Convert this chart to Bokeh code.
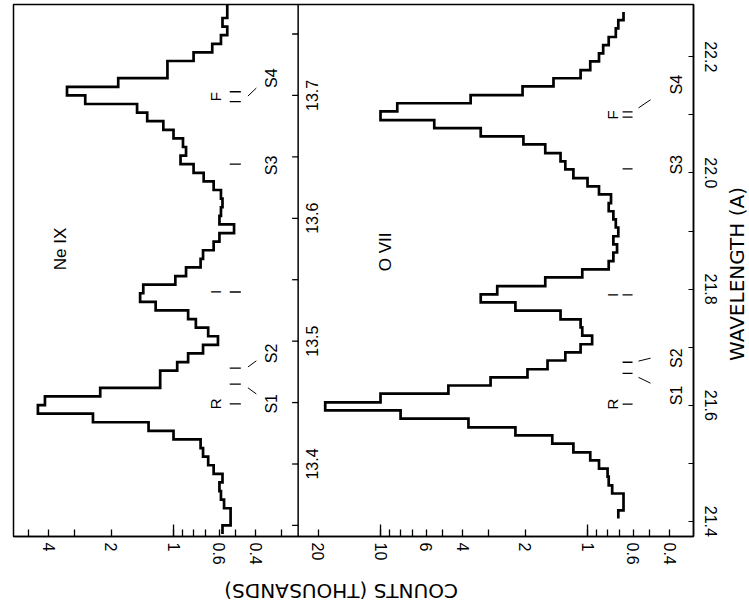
import math
from bokeh.plotting import figure
from bokeh.layouts import row, column
from bokeh.models import (Range1d, LogScale, LogAxis, LinearAxis, FixedTicker,
                          NumeralTickFormatter, Span)
from bokeh.core.properties import value
from bokeh.embed import file_html
from bokeh.resources import INLINE

# ---- Ne IX spectrum: channel edges (Angstrom) and counts (thousands) ----
ne_edges = [13.343, 13.350, 13.357, 13.364, 13.371, 13.378, 13.385, 13.392, 13.399, 13.406,
            13.413, 13.420, 13.427, 13.434, 13.441, 13.448, 13.455, 13.462, 13.469, 13.476,
            13.483, 13.490, 13.497, 13.504, 13.511, 13.518, 13.525, 13.532, 13.539, 13.546,
            13.553, 13.560, 13.567, 13.574, 13.581, 13.588, 13.595, 13.602, 13.609, 13.616,
            13.623, 13.630, 13.637, 13.644, 13.651, 13.658, 13.665, 13.672, 13.679, 13.686,
            13.693, 13.700, 13.707, 13.714, 13.721, 13.728, 13.735, 13.742, 13.749, 13.756,
            13.763, 13.770, 13.777]
ne_counts = [0.58, 0.53, 0.53, 0.57, 0.59, 0.60, 0.58, 0.64, 0.68, 0.72,
             0.74, 1.00, 1.32, 2.45, 4.52, 4.18, 2.26, 1.16, 1.16, 0.96,
             0.85, 0.72, 0.61, 0.68, 0.78, 0.85, 1.22, 1.45, 1.40, 0.98,
             0.87, 0.74, 0.72, 0.64, 0.60, 0.51, 0.60, 0.59, 0.58, 0.59,
             0.64, 0.715, 0.80, 0.925, 0.87, 0.90, 1.00, 1.12, 1.34, 1.50,
             2.67, 3.27, 1.85, 1.07, 1.07, 0.80, 0.65, 0.59, 0.55, 0.58,
             0.55, 0.55]

# ---- O VII spectrum ----
o_edges = [21.405, 21.419, 21.434, 21.448, 21.462, 21.477, 21.491, 21.505, 21.519, 21.534,
           21.548, 21.562, 21.577, 21.591, 21.605, 21.620, 21.634, 21.648, 21.662, 21.677,
           21.691, 21.705, 21.720, 21.734, 21.748, 21.763, 21.777, 21.791, 21.805, 21.820,
           21.834, 21.848, 21.863, 21.877, 21.891, 21.906, 21.920, 21.934, 21.948, 21.963,
           21.977, 21.991, 22.006, 22.020, 22.034, 22.049, 22.063, 22.077, 22.091, 22.106,
           22.120, 22.134, 22.149, 22.163, 22.177, 22.192, 22.206, 22.220, 22.234, 22.249,
           22.263, 22.277]
o_counts = [0.71, 0.67, 0.67, 0.76, 0.79, 0.80, 0.88, 0.97, 1.17, 1.48,
            2.23, 3.76, 8.0, 18.5, 10.0, 4.7, 2.94, 1.95, 1.56, 1.28,
            1.08, 0.95, 1.06, 1.08, 1.35, 2.23, 3.28, 2.73, 1.60, 1.06,
            0.79, 0.75, 0.72, 0.75, 0.71, 0.73, 0.75, 0.79, 0.77, 0.88,
            1.00, 1.17, 1.28, 1.35, 1.60, 2.04, 3.28, 5.5, 10.0, 8.3,
            3.67, 2.06, 1.46, 1.08, 0.97, 0.88, 0.84, 0.79, 0.73, 0.71,
            0.67]

# ---- line identifications ----
ne_mark_wl = [13.449, 13.465, 13.478, 13.540, 13.644, 13.695, 13.703]
o_mark_wl = [21.602, 21.655, 21.674, 21.790, 22.007, 22.096, 22.105]
main_lines = ["R", "I", "F"]
ne_main_wl = [13.449, 13.540, 13.699]
o_main_wl = [21.602, 21.790, 22.100]
satellites = ["S1", "S2", "S3", "S4"]
ne_sat_wl = [13.449, 13.490, 13.643, 13.714]
o_sat_wl = [21.617, 21.681, 22.014, 22.152]
# leader lines: (wl start, wl end) toward S1, S2, S4
ne_lead_wl = [(13.462, 13.457), (13.479, 13.484), (13.6995, 13.706)]
o_lead_wl = [(21.648, 21.638), (21.676, 21.681), (22.112, 22.126)]

# ---- axis ticks ----
ne_wl_major = [13.4, 13.5, 13.6, 13.7]
ne_wl_minor = [13.35, 13.45, 13.55, 13.65, 13.75]
ne_wl_labels = ["13.4", "13.5", "13.6", "13.7"]
o_wl_major = [21.4, 21.6, 21.8, 22.0, 22.2]
o_wl_minor = [21.5, 21.7, 21.9, 22.1]

# counts axis: O VII panel in its own units, Ne IX panel shares the
# same log axis with a factor of 100 offset (two decades)
NE_FACTOR = 100.0
ne_count_ticks = [6, 4, 2, 1, 0.6, 0.4]
ne_count_minor = [5, 3, 0.9, 0.8, 0.7, 0.5, 0.3]
o_count_ticks = [20, 10, 6, 4, 2, 1, 0.6, 0.4]
o_count_minor = [9, 8, 7, 5, 3, 0.9, 0.8, 0.7, 0.5, 0.3]
decades_o = [10, 1]
decades_ne = [1]

o_xrange = Range1d(593.0, 0.3076)
o_yrange = Range1d(21.374, 22.29)
ne_yrange = Range1d(13.341, 13.774)
divider = 25.0   # panel boundary, O VII counts units

# axis titles and where they sit (counts title under the panels, upside down;
# wavelength title beside the right scale, reading upward)
counts_title = "COUNTS (THOUSANDS)"
counts_title_at = 15.5
wave_title = "WAVELENGTH (A)"
wave_title_at = 21.826

FONT = value("Liberation Sans")
TITLE_FONT = value("DejaVu Sans")

W, H = 749, 611
TITLE_W, TITLE_H = 26, 40
LEFT, TOP, RIGHT_EDGE, BOTTOM_EDGE = 13, 4, 693, 536

main_w, main_h = W - TITLE_W, H - TITLE_H
p = figure(width=main_w, height=main_h, output_backend="svg", toolbar_location=None,
           x_axis_type="log", x_range=o_xrange, y_range=o_yrange,
           x_axis_location=None, y_axis_location=None,
           min_border_left=LEFT, min_border_top=TOP,
           min_border_right=main_w - RIGHT_EDGE, min_border_bottom=main_h - BOTTOM_EDGE)
p.extra_x_ranges = {"ne": Range1d(o_xrange.start / NE_FACTOR, o_xrange.end / NE_FACTOR)}
p.extra_x_scales = {"ne": LogScale()}
p.extra_y_ranges = {"ne": ne_yrange}
p.background_fill_color = "white"
p.border_fill_color = "white"
p.outline_line_color = "black"
p.outline_line_width = 1.5
p.xgrid.visible = False
p.ygrid.visible = False

# bottom counts axis
ticks = [t * NE_FACTOR for t in ne_count_ticks] + o_count_ticks
minor = [t * NE_FACTOR for t in ne_count_minor] + o_count_minor
overrides = {t * NE_FACTOR: f"{t:g}" for t in ne_count_ticks}
overrides.update({t: f"{t:g}" for t in o_count_ticks})
xa = LogAxis(ticker=FixedTicker(ticks=ticks, minor_ticks=minor))
xa.major_label_overrides = overrides
xa.major_label_orientation = "vertical"
xa.major_label_standoff = 6
xa.major_label_text_font = "Liberation Sans"
xa.major_label_text_font_size = "16px"
xa.major_label_text_color = "black"
xa.major_tick_in = 7
xa.major_tick_out = 0
xa.minor_tick_in = 7
xa.minor_tick_out = 0
xa.major_tick_line_width = 1.3
xa.minor_tick_line_width = 1.3
xa.axis_line_width = 1.5
p.add_layout(xa, "below")

# right wavelength axis (O VII)
ya = LinearAxis(ticker=FixedTicker(ticks=o_wl_major, minor_ticks=o_wl_minor),
                formatter=NumeralTickFormatter(format="0.0"))
ya.major_label_orientation = "vertical"
ya.major_label_standoff = 11
ya.major_label_text_font = "Liberation Sans"
ya.major_label_text_font_size = "16px"
ya.major_label_text_color = "black"
ya.major_tick_in = 5
ya.major_tick_out = 0
ya.minor_tick_in = 5
ya.minor_tick_out = 0
ya.axis_line_width = 1.5
p.add_layout(ya, "right")

# longer ticks at the decades
p.ray(x=decades_o + [d * NE_FACTOR for d in decades_ne], y=[o_yrange.start] * 3,
      length=12, length_units="screen", angle=math.pi / 2, line_color="black", line_width=1.3)

# panel divider and the Ne IX wavelength scale along it
p.add_layout(Span(location=divider, dimension="height", line_color="black", line_width=1.5))
ne_all = ne_wl_major + ne_wl_minor
p.ray(x=[divider] * len(ne_all), y=ne_all, y_range_name="ne", length=6,
      length_units="screen", angle=math.pi, line_color="black", line_width=1.3)
p.text(x=[divider] * 4, y=ne_wl_major, text=ne_wl_labels, y_range_name="ne",
       angle=math.pi / 2, text_align="center", text_baseline="top", x_offset=8,
       text_font=FONT, text_font_size="16px", text_color="black")


def step_path(edges, counts):
    xs, ys = [], []
    for i, c in enumerate(counts):
        xs += [c, c]
        ys += [edges[i], edges[i + 1]]
    return xs, ys


nx, ny = step_path(ne_edges, ne_counts)
p.line(nx, ny, x_range_name="ne", y_range_name="ne", line_color="black",
       line_width=2.7, line_join="miter")
ox, oy = step_path(o_edges, o_counts)
p.line(ox, oy, line_color="black", line_width=2.7, line_join="miter")

# ion labels
p.text(x=[3.5], y=[13.575], text=["Ne IX"], x_range_name="ne", y_range_name="ne",
       angle=math.pi / 2, text_align="center", text_baseline="middle",
       text_font=FONT, text_font_size="17px", text_color="black")
p.text(x=[9.5], y=[21.864], text=["O VII"], angle=math.pi / 2, text_align="center",
       text_baseline="middle", text_font=FONT, text_font_size="17px", text_color="black")

# Ne IX line markers and names
p.segment(x0=[0.535] * len(ne_mark_wl), y0=ne_mark_wl, x1=[0.473] * len(ne_mark_wl),
          y1=ne_mark_wl, x_range_name="ne", y_range_name="ne", line_color="black", line_width=1.3)
p.text(x=[0.625] * 3, y=ne_main_wl, text=main_lines, x_range_name="ne", y_range_name="ne",
       angle=math.pi / 2, text_align="center", text_baseline="middle",
       text_font=FONT, text_font_size="15px", text_color="black")
p.text(x=[0.338] * 4, y=ne_sat_wl, text=satellites, x_range_name="ne", y_range_name="ne",
       angle=math.pi / 2, text_align="center", text_baseline="middle",
       text_font=FONT, text_font_size="16px", text_color="black")
p.segment(x0=[0.437] * 3, y0=[a for a, b in ne_lead_wl], x1=[0.398] * 3,
          y1=[b for a, b in ne_lead_wl], x_range_name="ne", y_range_name="ne",
          line_color="black", line_width=1.0)

# O VII line markers and names
p.segment(x0=[0.677] * len(o_mark_wl), y0=o_mark_wl, x1=[0.606] * len(o_mark_wl),
          y1=o_mark_wl, line_color="black", line_width=1.3)
p.text(x=[0.757] * 3, y=o_main_wl, text=main_lines, angle=math.pi / 2,
       text_align="center", text_baseline="middle",
       text_font=FONT, text_font_size="15px", text_color="black")
p.text(x=[0.372] * 4, y=o_sat_wl, text=satellites, angle=math.pi / 2,
       text_align="center", text_baseline="middle",
       text_font=FONT, text_font_size="16px", text_color="black")
p.segment(x0=[0.567] * 3, y0=[a for a, b in o_lead_wl], x1=[0.496] * 3,
          y1=[b for a, b in o_lead_wl], line_color="black", line_width=1.0)


def title_strip(width, height, **kw):
    f = figure(width=width, height=height, output_backend="svg", toolbar_location=None,
               x_axis_location=None, y_axis_location=None, **kw)
    f.xgrid.visible = False
    f.ygrid.visible = False
    f.outline_line_color = None
    f.background_fill_color = "white"
    f.border_fill_color = "white"
    return f


# strip under the plot sharing the counts scale
bt = title_strip(main_w, TITLE_H, x_axis_type="log", x_range=o_xrange, y_range=Range1d(0, 1),
                 min_border_left=LEFT, min_border_right=main_w - RIGHT_EDGE,
                 min_border_top=0, min_border_bottom=0)
bt.text(x=[counts_title_at], y=[0.52], text=[counts_title], angle=math.pi,
        text_align="center", text_baseline="middle", text_font=TITLE_FONT,
        text_font_size="20px", text_color="black")

# strip at the right sharing the O VII wavelength scale
rt = title_strip(TITLE_W, H, x_range=Range1d(0, 1), y_range=o_yrange,
                 min_border_left=0, min_border_right=0,
                 min_border_top=TOP, min_border_bottom=H - BOTTOM_EDGE)
rt.text(x=[0.52], y=[wave_title_at], text=[wave_title], angle=math.pi / 2,
        text_align="center", text_baseline="middle", text_font=TITLE_FONT,
        text_font_size="20px", text_color="black")

layout = row(column(p, bt, spacing=0), rt, spacing=0)
open("out.html", "w").write(file_html(layout, INLINE))
